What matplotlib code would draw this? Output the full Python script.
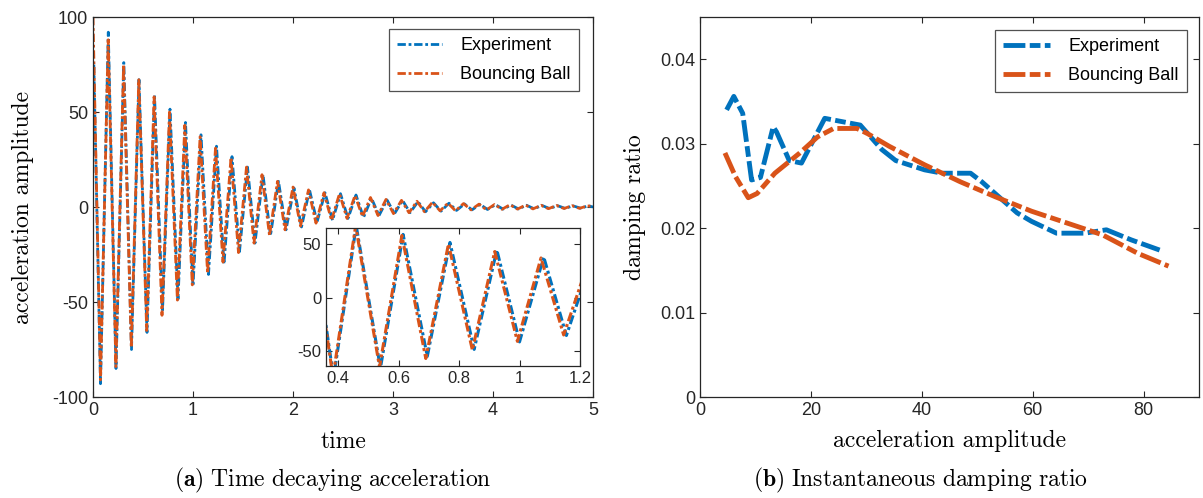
import numpy as np
import matplotlib
matplotlib.use("Agg")
import matplotlib.pyplot as plt

plt.rcParams["mathtext.fontset"] = "cm"
plt.rcParams["font.family"] = ["Liberation Sans", "DejaVu Sans"]
plt.rcParams["axes.unicode_minus"] = False

BLUE = "#0072BD"
ORANGE = "#D95319"

# (a) extrema of the decaying acceleration signal
exp_t = [0.0, 0.008, 0.075, 0.153, 0.23, 0.308, 0.385, 0.46, 0.54, 0.615, 0.695, 0.77, 0.85,
         0.925, 1.0, 1.08, 1.155, 1.235, 1.31, 1.39, 1.465, 1.545, 1.62, 1.70, 1.775,
         1.855, 1.93, 2.01, 2.085, 2.165, 2.24, 2.32, 2.395, 2.475, 2.55, 2.63, 2.705,
         2.785, 2.86, 2.94, 3.015, 3.095, 3.17, 3.25, 3.325, 3.405, 3.48, 3.56, 3.635,
         3.715, 3.79, 3.87, 3.945, 4.025, 4.10, 4.18, 4.255, 4.335, 4.41, 4.49, 4.565,
         4.645, 4.72, 4.80, 4.875, 4.955, 5.0]
exp_a = [40, 75, -93, 92, -85, 76, -75, 67, -66, 59, -55, 51.5, -48.5, 44.5, -41.5, 38,
         -35.5, 32, -30, 26.5, -23.5, 21, -19, 17, -15, 13.5, -12, 10, -10.5, 9, -8, 7.5,
         -7, 7, -6, 6.3, -5.5, 4.6, -4.5, 3.7, -3.5, 3.5, -3, 2.8, -2.5, 2.2, -2.2, 2,
         -1.8, 1.6, -1.5, 1.4, -1.3, 1.2, -1.1, 1.0, -1, 0.9, -0.9, 0.8, -0.8, 0.7, -0.7,
         0.6, -0.6, 0.6, 0.0]

ball_t = [0.0, 0.075, 0.152, 0.229, 0.306, 0.383, 0.458, 0.537, 0.611, 0.690, 0.765, 0.844,
          0.918, 0.993, 1.071, 1.146, 1.225, 1.30, 1.38, 1.455, 1.535, 1.61, 1.69, 1.765,
          1.845, 1.92, 2.0, 2.075, 2.155, 2.23, 2.31, 2.385, 2.465, 2.54, 2.62, 2.695,
          2.775, 2.85, 2.93, 3.005, 3.085, 3.16, 3.24, 3.315, 3.395, 3.47, 3.55, 3.625,
          3.705, 3.78, 3.86, 3.935, 4.015, 4.09, 4.17, 4.245, 4.325, 4.40, 4.48, 4.555,
          4.635, 4.71, 4.79, 4.865, 4.945, 5.0]
ball_a = [100, -91, 88, -84, 75, -74, 67, -65, 58, -57, 50, -49, 43, -41, 37, -35, 31, -29,
          26, -24, 21, -19, 17, -15, 13.5, -12, 10.5, -10, 9, -8.5, 7.5, -7, 7, -6, 6, -5,
          5, -4.5, 4, -3.5, 3.5, -3, 3, -2.5, 2.5, -2, 2, -2, 1.8, -1.5, 1.5, -1.5, 1.3,
          -1.2, 1.2, -1.1, 1.0, -1, 0.9, -0.9, 0.8, -0.8, 0.7, -0.7, 0.6, 0.3]

# (b) instantaneous damping ratio
exp_amp = [4.8, 6.1, 7.7, 9.3, 10.9, 13.2, 13.8, 16.1, 18.3, 22.5, 28.9, 32.8, 35.3, 40.5,
           43.7, 48.8, 50.8, 57.2, 59.8, 64.3, 69.4, 73.3, 77.8, 82.9]
exp_zeta = [0.034, 0.0356, 0.0336, 0.0257, 0.026, 0.032, 0.0314, 0.028, 0.0277, 0.033,
            0.0322, 0.0293, 0.028, 0.0269, 0.0265, 0.0265, 0.0255, 0.0218, 0.0208, 0.0194,
            0.0194, 0.0198, 0.0186, 0.0174]
ball_amp = [4.5, 6.4, 8.7, 10.3, 13.5, 18.0, 21.2, 24.1, 28.3, 30.2, 34.1, 40.5, 46.9, 53.3,
            59.8, 66.2, 72.6, 79.0, 84.5]
ball_zeta = [0.0289, 0.0261, 0.0236, 0.0241, 0.0265, 0.0289, 0.0308, 0.0318, 0.0318, 0.0312,
             0.0297, 0.0275, 0.0255, 0.0237, 0.022, 0.0206, 0.0192, 0.017, 0.0155]

W, H = 1203, 498
fig = plt.figure(figsize=(W / 100, H / 100), dpi=100)


def style(ax, size=13):
    for s in ax.spines.values():
        s.set_color("#262626")
        s.set_linewidth(0.9)
    ax.tick_params(direction="in", top=True, right=True, labelsize=size,
                   colors="#262626", length=4)


def frac(l, t, r, b):
    return [l / W, 1 - b / H, (r - l) / W, (b - t) / H]


serif = dict(fontfamily="cmr10", fontsize=17)
dd_a = (3, 1, 1, 1)
dd_b = (4.5, 0.9, 2.2, 0.9)

# ---- (a)
ax1 = fig.add_axes(frac(93, 17, 593, 397))
ax1.plot(exp_t, exp_a, color=BLUE, lw=2, dashes=dd_a, label="Experiment")
ax1.plot(ball_t, ball_a, color=ORANGE, lw=2, dashes=dd_a, label="Bouncing Ball")
ax1.set_xlim(0, 5)
ax1.set_ylim(-100, 100)
ax1.set_xticks([0, 1, 2, 3, 4, 5])
ax1.set_yticks([-100, -50, 0, 50, 100])
style(ax1)
ax1.set_xlabel("time", labelpad=9, **serif)
ax1.set_ylabel("acceleration amplitude", labelpad=13, **serif)
leg = ax1.legend(loc="upper right", fontsize=13, frameon=True, fancybox=False,
                 edgecolor="#262626", handlelength=2.5, handletextpad=1.0,
                 borderpad=0.45, labelspacing=0.66, borderaxespad=0,
                 bbox_to_anchor=(0.972, 0.968))
leg.get_frame().set_linewidth(0.9)

ins = fig.add_axes(frac(326, 228, 580, 366))
ins.plot(exp_t, exp_a, color=BLUE, lw=2.2, dashes=dd_a)
ins.plot(ball_t, ball_a, color=ORANGE, lw=2.2, dashes=dd_a)
ins.set_xlim(0.36, 1.2)
ins.set_ylim(-64, 65)
ins.set_xticks([0.4, 0.6, 0.8, 1, 1.2])
ins.set_xticklabels(["0.4", "0.6", "0.8", "1", "1.2"])
ins.set_yticks([-50, 0, 50])
style(ins, size=12)

# ---- (b)
ax2 = fig.add_axes(frac(700, 17, 1199, 397))
ax2.plot(exp_amp, exp_zeta, color=BLUE, lw=3.5, dashes=dd_b, label="Experiment")
ax2.plot(ball_amp, ball_zeta, color=ORANGE, lw=3.5, dashes=dd_b, label="Bouncing Ball")
ax2.set_xlim(0, 90)
ax2.set_ylim(0, 0.045)
ax2.set_xticks([0, 20, 40, 60, 80])
ax2.set_yticks([0, 0.01, 0.02, 0.03, 0.04])
ax2.set_yticklabels(["0", "0.01", "0.02", "0.03", "0.04"])
style(ax2)
ax2.set_xlabel("acceleration amplitude", labelpad=8, **serif)
ax2.set_ylabel("damping ratio", labelpad=10, **serif)
leg2 = ax2.legend(loc="upper right", fontsize=13, frameon=True, fancybox=False,
                  edgecolor="#262626", handlelength=2.6, handletextpad=1.0,
                  borderpad=0.45, labelspacing=0.66, borderaxespad=0,
                  bbox_to_anchor=(0.976, 0.966))
leg2.get_frame().set_linewidth(0.9)

fig.text(333 / W, 1 - 480 / H, r"$\mathbf{(a)}\ \mathrm{Time\ decaying\ acceleration}$",
         ha="center", va="center", fontsize=17)
fig.text(920 / W, 1 - 480 / H, r"$\mathbf{(b)}\ \mathrm{Instantaneous\ damping\ ratio}$",
         ha="center", va="center", fontsize=17)

fig.savefig("out.png", dpi=100)
